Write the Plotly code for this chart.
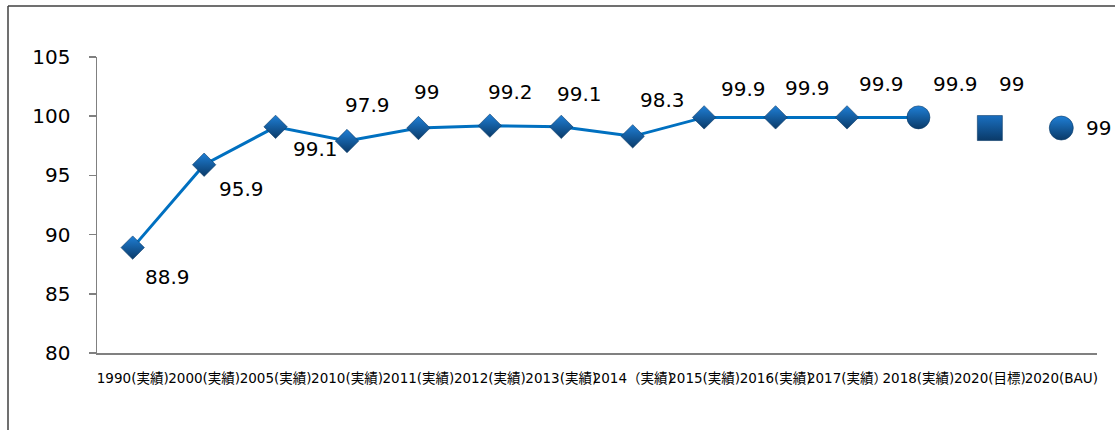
import plotly.graph_objects as go

# ---- data ----
categories = ["1990(実績)", "2000(実績)", "2005(実績)", "2010(実績)", "2011(実績)",
              "2012(実績)", "2013(実績)", "2014（実績)", "2015(実績)", "2016(実績)",
              "2017(実績）", "2018(実績)", "2020(目標)", "2020(BAU)"]
actual_values = [88.9, 95.9, 99.1, 97.9, 99, 99.2, 99.1, 98.3, 99.9, 99.9, 99.9, 99.9]
target_value = [99]
bau_value = [99]
y_ticks = [80, 85, 90, 95, 100, 105]

# ---- styles ----
label_dx = [35, 37, 40, 20, 8, 21, 18, 30, 39, 32, 34, 37, 22, 37]
label_dy = [-29, -24, -22, 36, 36, 34, 33, 36, 28, 29, 33, 33, 44, 0]  # +up
FONT = "DejaVu Sans, Verdana, Noto Sans CJK JP, sans-serif"
LINE_BLUE = "#0070c0"
LIGHT = "#1f7fd6"
DARK = "#0a3a68"

all_values = actual_values + target_value + bau_value
xs = list(range(len(categories)))
n_act = len(actual_values)


def marker(symbol, size, color=LIGHT):
    return dict(symbol=symbol, size=size, color=color,
                gradient=dict(type="vertical", color=DARK),
                line=dict(color=DARK, width=0.6))


fig = go.Figure()

fig.add_trace(go.Scatter(
    x=xs[:n_act], y=actual_values, mode="lines",
    line=dict(color=LINE_BLUE, width=3),
    showlegend=False, hoverinfo="skip"))

fig.add_trace(go.Scatter(
    x=xs[:n_act - 1], y=actual_values[:n_act - 1], mode="markers",
    marker=marker("diamond", 18), showlegend=False, hoverinfo="skip"))

fig.add_trace(go.Scatter(
    x=[xs[n_act - 1]], y=[actual_values[-1]], mode="markers",
    marker=marker("circle", 23), showlegend=False, hoverinfo="skip"))

fig.add_trace(go.Scatter(
    x=[xs[n_act]], y=target_value, mode="markers",
    marker=marker("square", 25, "#1a6fc0"), showlegend=False, hoverinfo="skip"))

fig.add_trace(go.Scatter(
    x=[xs[n_act + 1]], y=bau_value, mode="markers",
    marker=marker("circle", 24), showlegend=False, hoverinfo="skip"))

annotations = []
for i, v in enumerate(all_values):
    annotations.append(dict(
        x=xs[i], y=v, xref="x", yref="y", text=f"{v:g}", showarrow=False,
        xshift=label_dx[i], yshift=label_dy[i],
        font=dict(family=FONT, size=20, color="#000000")))

fig.update_layout(
    width=1115, height=430,
    margin=dict(l=97, r=18, t=57, b=77),
    plot_bgcolor="white", paper_bgcolor="white",
    font=dict(family=FONT, color="#000000"),
    annotations=annotations,
    shapes=[
        dict(type="line", xref="paper", yref="paper",
             x0=-0.089, x1=-0.089, y0=1.1723, y1=-0.35,
             line=dict(color="#404040", width=1.5)),
        dict(type="line", xref="paper", yref="paper",
             x0=-0.089, x1=1.05, y0=1.1723, y1=1.1723,
             line=dict(color="#404040", width=1.5)),
    ],
)

fig.update_xaxes(
    range=[-0.5, len(categories) - 0.5],
    tickmode="array", tickvals=xs, ticktext=categories,
    tickangle=0, showgrid=False, zeroline=False,
    showline=True, linecolor="#808080", linewidth=1.5,
    ticks="", ticklabelstandoff=12,
    tickfont=dict(family=FONT, size=13.5, color="#000000"))

fig.update_yaxes(
    range=[80, 105], tickmode="array", tickvals=y_ticks,
    showgrid=False, zeroline=False,
    showline=True, linecolor="#808080", linewidth=1.5,
    ticks="outside", ticklen=7, tickcolor="#808080", tickwidth=1.5,
    ticklabelstandoff=14,
    tickfont=dict(family=FONT, size=20, color="#000000"))

fig.write_html("out.html",
               config={"displayModeBar": False, "staticPlot": True},
               post_script="document.body.style.margin='0';"
                           "document.body.style.overflow='hidden';")
